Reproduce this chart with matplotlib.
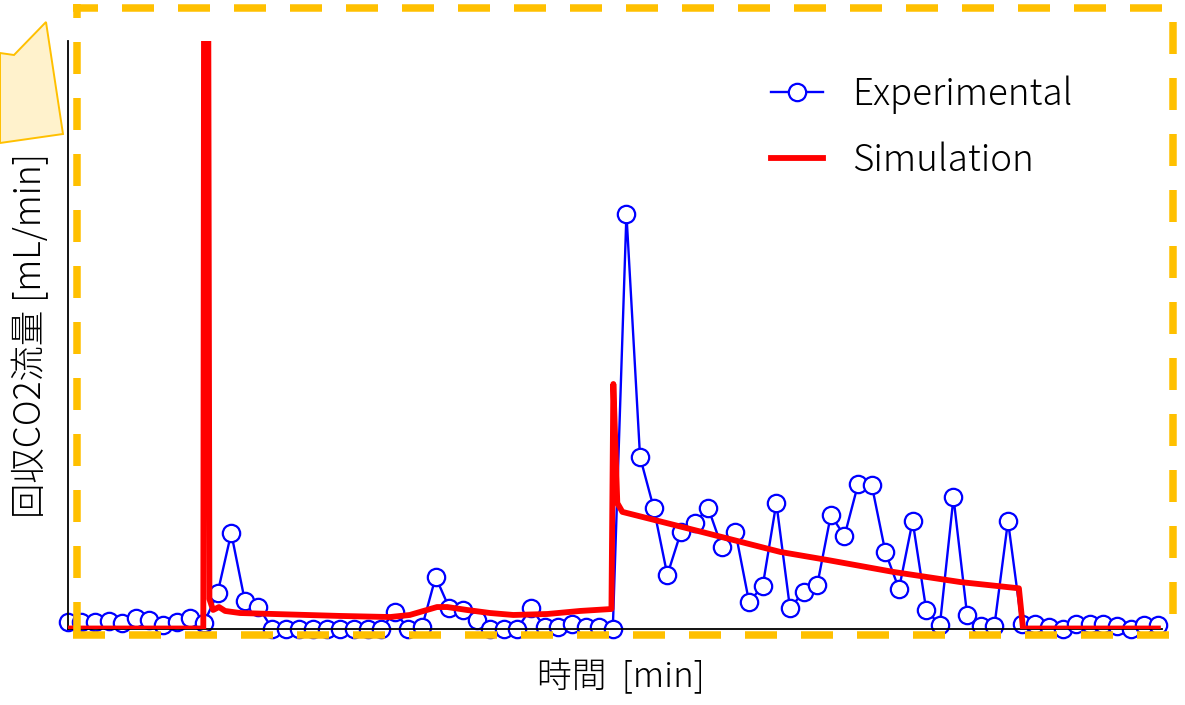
import matplotlib
matplotlib.use("Agg")
import matplotlib.pyplot as plt
from matplotlib.lines import Line2D
from matplotlib.patches import Polygon

plt.rcParams['font.family'] = ['Noto Sans CJK JP', 'DejaVu Sans']
plt.rcParams['font.weight'] = 'light'

# ---------------- data ----------------
exp_values = [0.66, 0.66, 0.66, 0.77, 0.56, 1.07, 0.87, 0.36, 0.66, 1.07,
              0.56, 3.62, 9.74, 2.81, 2.19, 0.0, 0.0, 0.0, 0.0, 0.0,
              0.0, 0.0, 0.0, 0.0, 1.68, 0.0, 0.15, 5.26, 2.09, 1.89,
              0.87, 0.0, 0.0, 0.0, 2.09, 0.15, 0.15, 0.46, 0.15, 0.15,
              0.0, 42.30, 17.50, 12.30, 5.46, 9.85, 10.77, 12.30, 8.32, 9.85,
              2.70, 4.34, 12.81, 2.09, 3.72, 4.44, 11.58, 9.44, 14.74, 14.64,
              7.81, 4.03, 10.97, 1.89, 0.36, 13.37, 1.38, 0.26, 0.26, 10.97,
              0.46, 0.46, 0.15, 0.0, 0.46, 0.46, 0.46, 0.26, 0.0, 0.36,
              0.36]
exp_time = list(range(len(exp_values)))

sim_time = [0, 9.95, 10.12, 10.4, 10.67, 11.1, 11.55, 12.65, 20.0, 23.66,
            25.1, 27.1, 27.85, 29.3, 31.0, 32.7, 35.2, 37.6, 39.9, 40.04,
            40.33, 40.7, 46.4, 52.3, 55.75, 60.6, 65.5, 69.8, 70.1, 80.0]
sim_values = [0, 0, 200, 3.0, 1.89, 2.19, 1.79, 1.58, 1.28, 1.17,
              1.38, 2.19, 2.19, 1.89, 1.58, 1.38, 1.48, 1.79, 1.99, 24.95,
              12.8, 11.9, 9.9, 7.81, 6.99, 5.77, 4.74, 4.1, 0, 0]

W, H = 1185, 705


def fx(x):
    return x / W


def fy(y):
    return 1 - y / H


# ---------------- figure ----------------
fig = plt.figure(figsize=(W / 100, H / 100), dpi=100)
ax = fig.add_axes([fx(67.7), fy(628.5), (1162 - 67.7) / W, (628.5 - 40.5) / H])

ax.plot(exp_time, exp_values, color='#0000FF', lw=1.7, marker='o', ms=12.5,
        mfc='white', mec='#0000FF', mew=1.6, label='Experimental', zorder=2,
        clip_on=False)
ax.plot(sim_time, sim_values, color='#FF0000', lw=4.2, label='Simulation',
        zorder=3, solid_joinstyle='round')

ax.set_xlim(0, 80.3)
ax.set_ylim(0, 60)
ax.set_xticks([])
ax.set_yticks([])
for s in ['top', 'right']:
    ax.spines[s].set_visible(False)
for s in ['left', 'bottom']:
    ax.spines[s].set_linewidth(1.3)
    ax.spines[s].set_color('black')

ax.legend(loc='upper left', bbox_to_anchor=(fx(753), fy(57)),
          bbox_transform=fig.transFigure, frameon=False, fontsize=26.5,
          borderpad=0, handlelength=1.41, handletextpad=0.79,
          labelspacing=0.75)

fig.text(fx(31), fy(335), '回収CO2流量 [mL/min]', rotation=90,
         ha='center', va='center', fontsize=25.5)
fig.text(fx(621), fy(677), '時間  [min]', ha='center', va='center',
         fontsize=25)

# yellow callout in the top-left corner
callout = Polygon([(fx(0), fy(53)), (fx(14), fy(55)), (fx(46), fy(22)),
                   (fx(63), fy(134)), (fx(0), fy(143))], closed=True,
                  transform=fig.transFigure, facecolor='#FFF2CC',
                  edgecolor='#FFC000', lw=1.4, zorder=5)
fig.add_artist(callout)

# dashed gold frame
gold = '#FFC000'
lw_px = 7.5
lw_pt = lw_px * 72 / 100
on, off = 32 / lw_px, 24 / lw_px
edges = [
    ((73, 1177), (7.5, 7.5), 7),
    ((77, 77), (4, 638), 18),
    ((73, 1177), (634.5, 634.5), 0),
    ((1173, 1173), (4, 638), 38),
]
for xs, ys, offset in edges:
    fig.add_artist(Line2D([fx(xs[0]), fx(xs[1])], [fy(ys[0]), fy(ys[1])],
                          transform=fig.transFigure, color=gold, lw=lw_pt,
                          ls=(offset / lw_px, (on, off)),
                          dash_capstyle='butt', zorder=6))

fig.savefig('out.png', dpi=100)
